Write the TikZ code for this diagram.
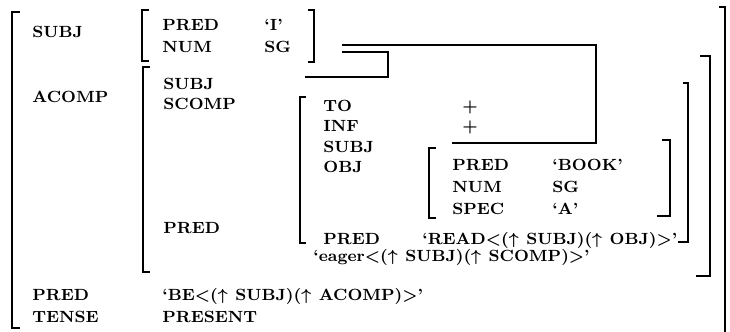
\documentclass[tikz,border=0pt]{standalone}
\begin{document}
\begin{tikzpicture}[
    x=0.5pt, y=-0.5pt,
    feat/.style={anchor=base west, inner sep=0pt, font=\fontsize{8.1}{10}\selectfont\bfseries\boldmath},
    brk/.style={line width=0.9pt},
    link/.style={line width=0.9pt}
]
    \useasboundingbox (0,0) rectangle (730,332);

    % Outer f-structure
    \draw[brk] (20,12) -- (12,12) -- (12,328) -- (20,328);
    \draw[brk] (719,7) -- (725,7) -- (725,332);
    \node[feat] (subj) at (32,38) {SUBJ};
    \node[feat] (acomp) at (32,103) {ACOMP};
    \node[feat] (pred) at (32,300) {PRED};
    \node[feat] (tense) at (32,322) {TENSE};
    \node[feat] (predval) at (162,300) {`BE$<$($\uparrow\!$SUBJ)($\uparrow\!$ACOMP)$>$'};
    \node[feat] (tenseval) at (162,322) {PRESENT};

    % SUBJ f-structure
    \draw[brk] (149,10) -- (142,10) -- (142,61) -- (149,61);
    \draw[brk] (308,10) -- (314,10) -- (314,62) -- (308,62);
    \node[feat] (spred) at (162,31) {PRED};
    \node[feat] (spredval) at (264,31) {`I'};
    \node[feat] (snum) at (162,53) {NUM};
    \node[feat] (snumval) at (264,53) {SG};

    % ACOMP f-structure
    \draw[brk] (150,67) -- (143,67) -- (143,272) -- (150,272);
    \draw[brk] (700,56) -- (710,56) -- (710,276) -- (696,276);
    \node[feat] (asubj) at (163,90) {SUBJ};
    \node[feat] (ascomp) at (163,110) {SCOMP};
    \node[feat] (apred) at (163,233) {PRED};
    \node[feat] (apredval) at (313,261) {`eager$<$($\uparrow\!$SUBJ)($\uparrow\!$SCOMP)$>$'};

    % SCOMP f-structure
    \draw[brk] (306,97) -- (300,97) -- (300,243) -- (306,243);
    \draw[brk] (683,83) -- (688,83) -- (688,242) -- (678,242);
    \node[feat] (to) at (323,112) {TO};
    \node[feat] (toval) at (462,112) {+};
    \node[feat] (inf) at (323,132) {INF};
    \node[feat] (infval) at (462,132) {+};
    \node[feat] (csubj) at (323,152) {SUBJ};
    \node[feat] (cobj) at (323,172) {OBJ};
    \node[feat] (cpred) at (323,244) {PRED};
    \node[feat] (cpredval) at (422,244) {`READ$<$($\uparrow\!$SUBJ)($\uparrow\!$OBJ)$>$'};

    % OBJ f-structure
    \draw[brk] (436,148) -- (429,148) -- (429,218) -- (436,218);
    \draw[brk] (662,140) -- (670,140) -- (670,216) -- (657,216);
    \node[feat] (opred) at (452,170) {PRED};
    \node[feat] (opredval) at (552,170) {`BOOK'};
    \node[feat] (onum) at (452,192) {NUM};
    \node[feat] (onumval) at (552,192) {SG};
    \node[feat] (ospec) at (452,214) {SPEC};
    \node[feat] (ospecval) at (552,214) {`A'};

    % Shared SUBJ links
    \coordinate (share1) at (342,45);
    \coordinate (share2) at (342,52);
    \coordinate (csubjslot) at (452,143);
    \coordinate (asubjslot) at (305,77);
    \draw[link] (share1) -- (596,45) |- (csubjslot);
    \draw[link] (share2) -- (388,52) |- (asubjslot);
\end{tikzpicture}
\end{document}
